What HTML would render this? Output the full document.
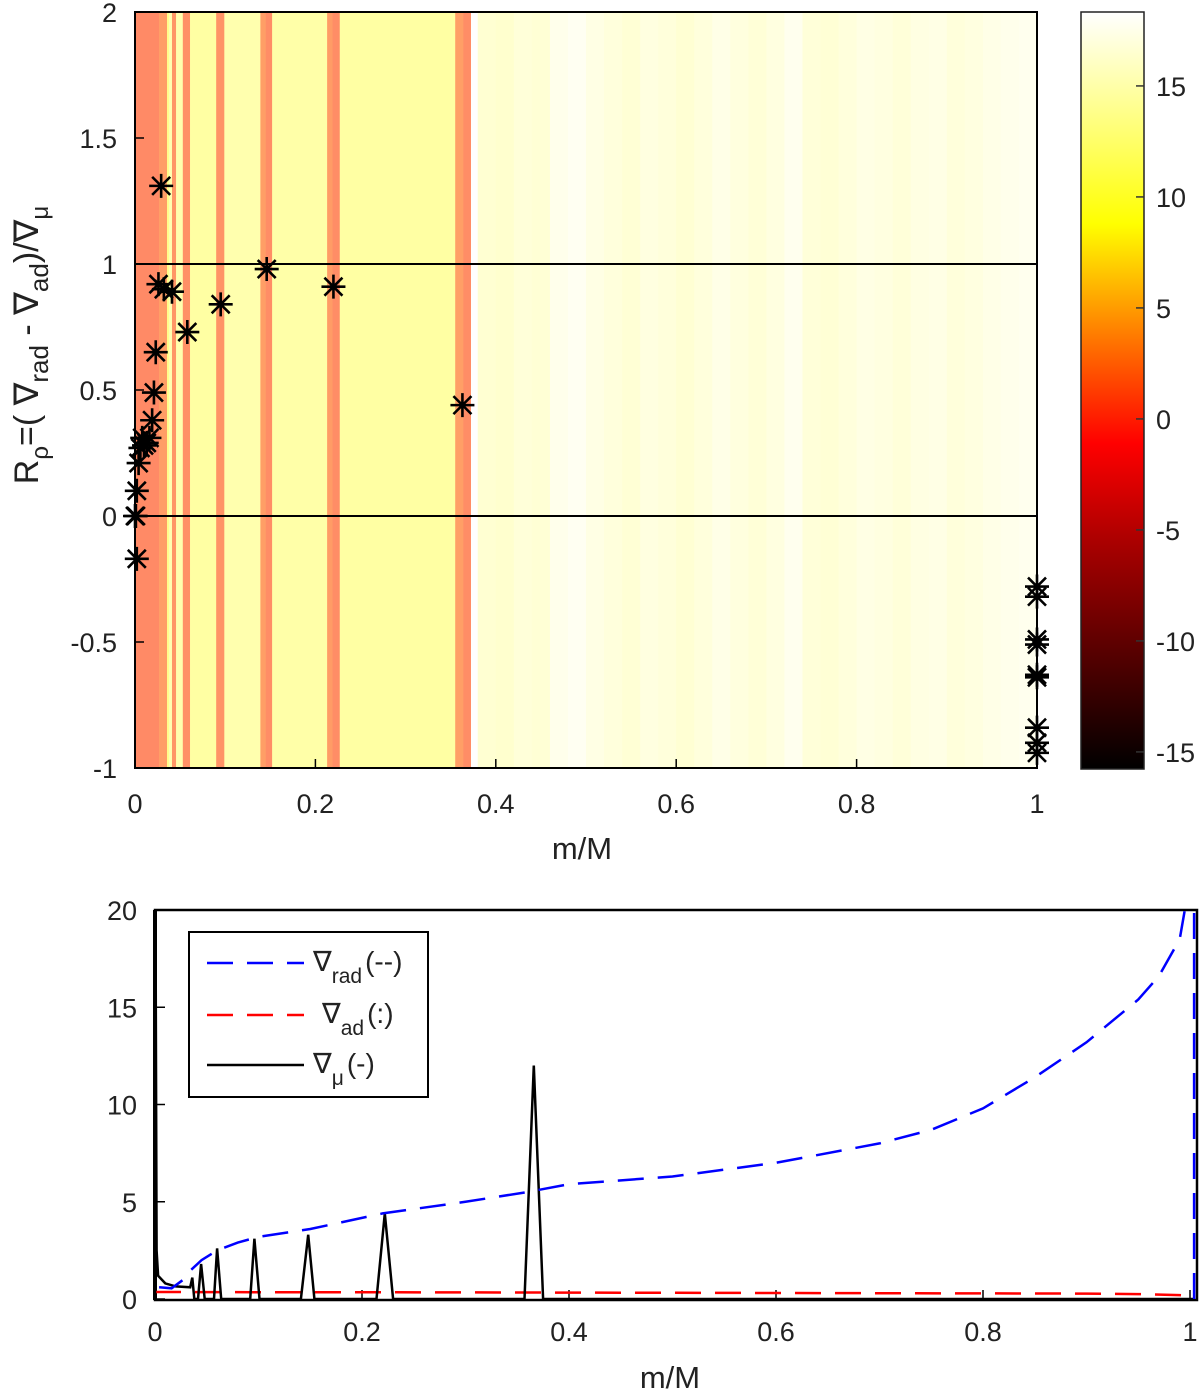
<!DOCTYPE html>
<html><head><meta charset="utf-8">
<style>
html,body{margin:0;padding:0;background:#fff;}
svg{display:block;font-family:"Liberation Sans",sans-serif;}
</style></head>
<body>
<svg id="fig" width="1200" height="1390" viewBox="0 0 1200 1390" xmlns="http://www.w3.org/2000/svg">
<defs>
<linearGradient id="hotgrad" x1="0" y1="1" x2="0" y2="0">
<stop offset="0" stop-color="#000"/>
<stop offset="0.3" stop-color="#a00"/>
<stop offset="0.43" stop-color="#f00"/>
<stop offset="0.56" stop-color="#ff7000"/>
<stop offset="0.72" stop-color="#ff0"/>
<stop offset="0.82" stop-color="#ffff60"/>
<stop offset="1" stop-color="#fff"/>
</linearGradient>
<clipPath id="topclip"><rect x="135" y="12" width="902" height="756"/></clipPath>
<clipPath id="botclip"><rect x="155" y="909" width="1042" height="391"/></clipPath>
</defs>
<g id="topchart"></g>
<g id="cbar"></g>
<g id="botchart"></g>
</svg>
<script>
// ---- top chart data ----
const stripeEdges = [0,0.0266,0.0355,0.0377,0.041,0.0455,0.053,0.061,0.09,0.099,0.139,0.145,0.152,0.213,0.219,0.227,0.355,0.364,0.3725,0.38,
0.40,0.42,0.44,0.46,0.48,0.50,0.52,0.54,0.56,0.58,0.60,0.62,0.64,0.66,0.68,0.70,0.72,0.74,0.76,0.78,0.80,0.82,0.84,0.86,0.88,0.90,0.92,0.94,0.96,0.98,1.0];
const stripeValues = [0,1.7,12,14,1,13.8,0.5,13.2,0.8,13.8,1.7,0.3,13.5,1.5,0.3,13.2,1.8,0.3,18.3,
15.8,15.6,16.2,16.0,17.2,17.6,16.8,16.4,16.0,16.6,16.3,15.9,16.4,17.0,16.5,16.1,16.6,17.4,16.2,16.0,16.4,16.8,16.6,16.2,16.7,16.9,16.3,16.6,17.0,17.2,17.4];
const starM = [0.029,0.026,0.032,0.041,0.058,0.095,0.146,0.22,0.363,0.023,0.021,0.019,0.016,0.013,0.010,0.008,0.006,0.004,0.002,0.001,0,0.002,
1,1,1,1,1,1,1,1,1];
const starR = [1.31,0.92,0.90,0.89,0.73,0.84,0.98,0.91,0.44,0.65,0.49,0.38,0.31,0.29,0.28,0.31,0.27,0.21,0.10,0.0,0.0,-0.17,
-0.28,-0.32,-0.49,-0.51,-0.63,-0.64,-0.84,-0.90,-0.94];
const topXTicks = [0,0.2,0.4,0.6,0.8,1];
const topXTickLabels = ["0","0.2","0.4","0.6","0.8","1"];
const topYTicks = [2,1.5,1,0.5,0,-0.5,-1];
const topYTickLabels = ["2","1.5","1","0.5","0","-0.5","-1"];
const cbTicks = [15,10,5,0,-5,-10,-15];
const cbTickLabels = ["15","10","5","0","-5","-10","-15"];
// ---- bottom chart data ----
const radM = [0.004,0.016,0.03,0.035,0.045,0.06,0.08,0.1,0.15,0.22,0.30,0.36,0.40,0.50,0.60,0.70,0.75,0.80,0.85,0.90,0.95,0.97,0.99,0.995];
const radV = [0.6,0.55,1.1,1.5,2.0,2.5,2.9,3.2,3.6,4.4,5.0,5.5,5.9,6.3,7.0,8.0,8.7,9.8,11.4,13.2,15.4,16.6,18.5,20];
const radEdgeM = [1.004,1.004];
const radEdgeV = [0,20];
const adM = [0.0,0.1,0.2,0.3,0.4,0.5,0.6,0.7,0.8,0.9,0.95,0.99,1.0];
const adV = [0.36,0.35,0.35,0.34,0.33,0.32,0.31,0.30,0.29,0.28,0.25,0.2,0.15];
const muM = [0,0.0005,0.0015,0.003,0.01,0.02,0.034,0.036,0.038,0.0415,0.0445,0.048,0.057,0.06,0.064,0.092,0.096,0.101,0.141,0.148,0.154,0.214,0.222,0.230,0.357,0.366,0.375,1.004];
const muV = [0,20,2.5,1.2,0.8,0.65,0.6,1.1,0,0,1.8,0,0,2.6,0,0,3.1,0,0,3.3,0,0,4.4,0,0,12,0,0];
const botXTicks = [0,0.2,0.4,0.6,0.8,1];
const botXTickLabels = ["0","0.2","0.4","0.6","0.8","1"];
const botYTicks = [20,15,10,5,0];
const botYTickLabels = ["20","15","10","5","0"];

const NS = "http://www.w3.org/2000/svg";
function mk(tag, attrs, parent){const e=document.createElementNS(NS,tag);for(const k in attrs)e.setAttribute(k,attrs[k]);parent.appendChild(e);return e;}

const tx = m => 135 + m*902;
const ty = r => 516 - r*252;
const cby = v => 12 + (18.33 - v)*22.2;
const bx = m => 155 + m*1035;
const by = v => 1299 - v*19.45;

function hot(v){
  const f = Math.max(0,Math.min(1,(v+15.8)/(18.33+15.8)));
  const r = Math.min(1,f/0.375), g = Math.max(0,Math.min(1,(f-0.375)/0.375)), b = Math.max(0,Math.min(1,(f-0.75)/0.25));
  const a = 0.6;
  const c = x => Math.round(255*(1-a+a*x));
  return `rgb(${c(r)},${c(g)},${c(b)})`;
}

const topG = document.getElementById('topchart');
const stripes = mk('g',{'clip-path':'url(#topclip)'},topG);


for(let i=0;i<stripeValues.length;i++){
  const x0 = tx(stripeEdges[i]), x1 = tx(stripeEdges[i+1]);
  const r = mk('rect',{x:x0,y:12,width:(x1-x0)+0.6,height:756,fill:hot(stripeValues[i])},stripes);
  
  
}
[0,1].forEach(v=>{
  const l = mk('line',{x1:135,x2:1037,y1:ty(v),y2:ty(v),stroke:'#000','stroke-width':2},topG);
  
  
});
const frame = mk('rect',{x:135,y:12,width:902,height:756,fill:'none',stroke:'#000','stroke-width':2},topG);


topXTicks.forEach((t,i)=>{
  mk('line',{x1:tx(t),x2:tx(t),y1:768,y2:759,stroke:'#000','stroke-width':1.5},topG);
  const tt = mk('text',{x:tx(t),y:813,'font-size':27,'text-anchor':'middle',fill:'#222'},topG);
  tt.textContent = topXTickLabels[i];
  
  
});
topYTicks.forEach((t,i)=>{
  mk('line',{x1:135,x2:144,y1:ty(t),y2:ty(t),stroke:'#000','stroke-width':1.5},topG);
  const tt = mk('text',{x:117,y:ty(t)+10,'font-size':27,'text-anchor':'end',fill:'#222'},topG);
  tt.textContent = topYTickLabels[i];
  
  
});
const starG = mk('g',{},topG);


for(let i=0;i<starM.length;i++){
  const cx = tx(starM[i]), cy = ty(starR[i]), s = 12, d = 9;
  const p = mk('path',{d:`M${cx-s},${cy}H${cx+s}M${cx},${cy-s}V${cy+s}M${cx-d},${cy-d}L${cx+d},${cy+d}M${cx-d},${cy+d}L${cx+d},${cy-d}`,stroke:'#000','stroke-width':2.6,fill:'none'},starG);
  
  
}
const txl = mk('text',{x:582,y:859,'font-size':31,'text-anchor':'middle',fill:'#222'},topG);
txl.textContent='m/M';


const tyl = mk('text',{transform:'translate(38,345) rotate(-90)','font-size':34,'text-anchor':'middle',fill:'#222'},topG);
tyl.innerHTML = 'R<tspan font-size="24" dy="10">ρ</tspan><tspan dy="-10">=( ∇</tspan><tspan font-size="26" dy="10">rad</tspan><tspan dy="-10"> - ∇</tspan><tspan font-size="26" dy="10">ad</tspan><tspan dy="-10">)/∇</tspan><tspan font-size="24" dy="10">μ</tspan>';



const cb = document.getElementById('cbar');
const cbr = mk('rect',{x:1081,y:12,width:63,height:757,fill:'url(#hotgrad)',stroke:'#222','stroke-width':1.5},cb);


cbTicks.forEach((t,i)=>{
  mk('line',{x1:1136,x2:1144,y1:cby(t),y2:cby(t),stroke:'#333','stroke-width':1.5},cb);
  const tt = mk('text',{x:1156,y:cby(t)+10,'font-size':27,fill:'#222'},cb);
  tt.textContent = cbTickLabels[i];
  
  
});

const botG = document.getElementById('botchart');
const bframe = mk('rect',{x:155,y:910,width:1042,height:390,fill:'none',stroke:'#000','stroke-width':2.5},botG);


mk('line',{x1:155,x2:155,y1:910,y2:1300,stroke:'#000','stroke-width':4},botG);
botXTicks.forEach((t,i)=>{
  mk('line',{x1:bx(t),x2:bx(t),y1:1300,y2:1290,stroke:'#000','stroke-width':1.5},botG);
  const tt = mk('text',{x:bx(t),y:1341,'font-size':27,'text-anchor':'middle',fill:'#222'},botG);
  tt.textContent = botXTickLabels[i];
  
  
});
botYTicks.forEach((t,i)=>{
  mk('line',{x1:155,x2:165,y1:by(t),y2:by(t),stroke:'#000','stroke-width':1.5},botG);
  const tt = mk('text',{x:137,y:by(t)+10,'font-size':27,'text-anchor':'end',fill:'#222'},botG);
  tt.textContent = botYTickLabels[i];
  
  
});
const lines = mk('g',{'clip-path':'url(#botclip)'},botG);
function poly(M,V,stroke,dash,name){
  const pts = M.map((m,i)=>bx(m).toFixed(1)+','+by(V[i]).toFixed(1)).join(' ');
  const a = {points:pts,fill:'none',stroke:stroke,'stroke-width':2.5};
  if(dash) a['stroke-dasharray']=dash;
  const p = mk('polyline',a,lines);
  
  
}
poly(adM,adV,'#f00','26,14','nabla-ad-line');
poly(muM,muV,'#000',null,'nabla-mu-line');
poly(radM,radV,'#00f','26,14','nabla-rad-line');
poly(radEdgeM,radEdgeV,'#00f','26,14','nabla-rad-edge-line');

const lg = mk('g',{},botG);


mk('rect',{x:189,y:932,width:239,height:165,fill:'#fff',stroke:'#000','stroke-width':2},lg);
const entries = [
 {y:963,c:'#00f',d:'26,14',main:'∇',sub:'rad',tail:'(--)',tx:313,name:'legend-entry-rad'},
 {y:1015,c:'#f00',d:'26,14',main:'∇',sub:'ad',tail:'(:)',tx:322,name:'legend-entry-ad'},
 {y:1065,c:'#000',d:null,main:'∇',sub:'μ',tail:'(-)',tx:313,name:'legend-entry-mu'}
];
entries.forEach(e=>{
  const g = mk('g',{},lg);
  
  
  const a = {x1:207,x2:304,y1:e.y,y2:e.y,stroke:e.c,'stroke-width':2.5};
  if(e.d) a['stroke-dasharray']=e.d;
  mk('line',a,g);
  const t = mk('text',{x:e.tx,y:e.y+8,'font-size':28,fill:'#222'},g);
  t.innerHTML = e.main+'<tspan font-size="21" dy="12">'+e.sub+'</tspan><tspan dy="-12" dx="3">'+e.tail+'</tspan>';
});
const bxl = mk('text',{x:670,y:1388,'font-size':31,'text-anchor':'middle',fill:'#222'},botG);
bxl.textContent='m/M';


</script>
</body></html>
